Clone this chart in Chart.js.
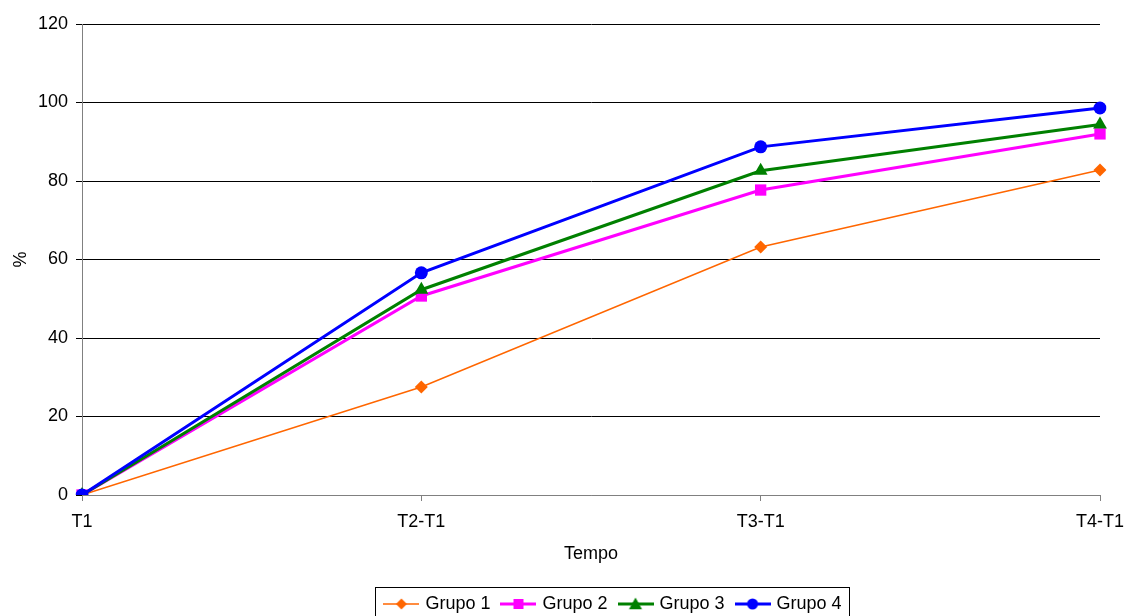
<!DOCTYPE html>
<html>
<head>
<meta charset="utf-8">
<script src="https://cdn.jsdelivr.net/npm/chart.js@4/dist/chart.umd.min.js"></script>
<style>
html,body{margin:0;padding:0;background:#fff;}
#wrap{width:1126px;height:616px;position:relative;}
</style>
</head>
<body>
<div id="wrap"><canvas id="c" width="1126" height="616"></canvas></div>
<script>
const categories = ["T1", "T2-T1", "T3-T1", "T4-T1"];
const grupo1 = [0, 27.5, 63.2, 82.8];
const grupo2 = [0, 50.7, 77.7, 92.0];
const grupo3 = [0, 52.3, 82.6, 94.4];
const grupo4 = [0, 56.6, 88.7, 98.6];
const seriesNames = ["Grupo 1", "Grupo 2", "Grupo 3", "Grupo 4"];
const yTicks = [0, 20, 40, 60, 80, 100, 120];

const FONT = "'Liberation Sans', Arial, sans-serif";
const FS = 18;

function legendIcon(color, style, lw, r) {
  const c = document.createElement('canvas');
  const w = 36, h = 16;
  c.width = w; c.height = h;
  const g = c.getContext('2d');
  g.strokeStyle = color; g.fillStyle = color; g.lineWidth = lw;
  g.beginPath(); g.moveTo(0, h/2); g.lineTo(w, h/2); g.stroke();
  const cx = w/2, cy = h/2;
  g.beginPath();
  if (style === 'rectRot') {
    g.moveTo(cx, cy - r); g.lineTo(cx + r, cy); g.lineTo(cx, cy + r); g.lineTo(cx - r, cy); g.closePath();
  } else if (style === 'rect') {
    g.rect(cx - r, cy - r, r*2, r*2);
  } else if (style === 'triangle') {
    g.moveTo(cx, cy - r); g.lineTo(cx + r, cy + r*0.8); g.lineTo(cx - r, cy + r*0.8); g.closePath();
  } else {
    g.arc(cx, cy, r, 0, Math.PI*2);
  }
  g.fill();
  return c;
}

const colors = ["#FF6600", "#FF00FF", "#008000", "#0000FF"];
const styles = ["rectRot", "rect", "triangle", "circle"];
const widths = [1.5, 3, 3, 3];
const radii = [6.5, 8, 8, 6.5];
const iconR = [5.5, 5, 6.5, 5.5];
const icons = colors.map((c, i) => legendIcon(c, styles[i], i === 0 ? 1.5 : 3, iconR[i]));

const dataArrays = [grupo1, grupo2, grupo3, grupo4];
const LEGEND_DX = 64;
const LEGEND_DY = 7;

const legendBorder = {
  id: 'legendBorder',
  afterLayout(chart) {
    const l = chart.legend;
    if (!l) return;
    l.left += LEGEND_DX; l.right += LEGEND_DX;
    l.top += LEGEND_DY; l.bottom += LEGEND_DY;
    (l.legendHitBoxes || []).forEach(b => { b.left += LEGEND_DX; b.top += LEGEND_DY; });
  },
  afterDraw(chart) {
    const l = chart.legend;
    if (!l || !l.legendHitBoxes || !l.legendHitBoxes.length) return;
    const boxes = l.legendHitBoxes;
    const left = Math.min(...boxes.map(b => b.left)) - 11;
    const right = Math.max(...boxes.map(b => b.left + b.width)) + 8;
    const top = Math.min(...boxes.map(b => b.top)) - 15;
    const ctx = chart.ctx;
    ctx.save();
    ctx.strokeStyle = '#000';
    ctx.lineWidth = 1;
    ctx.strokeRect(Math.round(left) + 0.5, Math.round(top) + 0.5, Math.round(right - left), 100);
    ctx.restore();
  }
};

function chartLegendHeight(chart) {
  return chart.legend && chart.legend.height ? chart.legend.height : 41;
}

new Chart(document.getElementById('c'), {
  type: 'line',
  data: {
    labels: categories,
    datasets: dataArrays.map((d, i) => ({
      label: seriesNames[i],
      data: d,
      borderColor: colors[i],
      backgroundColor: colors[i],
      borderWidth: widths[i],
      pointStyle: styles[i],
      pointRadius: radii[i],
      pointHoverRadius: radii[i],
      pointBorderWidth: 0,
      tension: 0,
      fill: false,
      order: 4 - i
    }))
  },
  options: {
    responsive: false,
    animation: false,
    devicePixelRatio: 1,
    layout: { padding: { top: 24, right: 26, left: 0, bottom: 0 } },
    plugins: {
      tooltip: { enabled: false },
      legend: {
        position: 'bottom',
        align: 'center',
        labels: {
          usePointStyle: true,
          pointStyleWidth: 30,
          font: { family: FONT, size: FS },
          color: '#000',
          padding: 13,
          generateLabels(chart) {
            return chart.data.datasets.map((ds, i) => ({
              text: ds.label,
              pointStyle: icons[i],
              fillStyle: colors[i],
              strokeStyle: colors[i],
              lineWidth: 0,
              hidden: false,
              datasetIndex: i,
              fontColor: '#000'
            }));
          }
        }
      }
    },
    scales: {
      x: {
        type: 'category',
        offset: false,
        border: { display: true, color: '#808080', width: 1 },
        grid: { display: true, drawOnChartArea: false, drawTicks: true, tickLength: 6, color: '#808080' },
        ticks: { font: { family: FONT, size: FS }, color: '#000', padding: 10, maxRotation: 0 },
        title: { display: true, text: 'Tempo', font: { family: FONT, size: FS }, color: '#000', padding: { top: 8, bottom: 10 } },
        afterFit(s) { s.height = 616 - 495 - chartLegendHeight(s.chart); s.paddingLeft = 0; s.paddingRight = 0; }
      },
      y: {
        min: 0, max: 120,
        afterBuildTicks(s) { s.ticks = yTicks.map(v => ({ value: v })); },
        border: { display: true, color: '#808080', width: 1 },
        grid: {
          color: ctx => ctx.tick && ctx.tick.value === 0 ? '#808080' : '#000',
          tickColor: '#000',
          tickLength: 6,
          lineWidth: 1
        },
        ticks: { font: { family: FONT, size: FS }, color: '#000', padding: 8 },
        title: { display: true, text: '%', font: { family: FONT, size: FS }, color: '#000', padding: { top: 10, bottom: 0 } },
        afterFit(s) { s.width = 82; s.paddingTop = 0; s.paddingBottom = 0; }
      }
    }
  },
  plugins: [legendBorder]
});
</script>
</body>
</html>
